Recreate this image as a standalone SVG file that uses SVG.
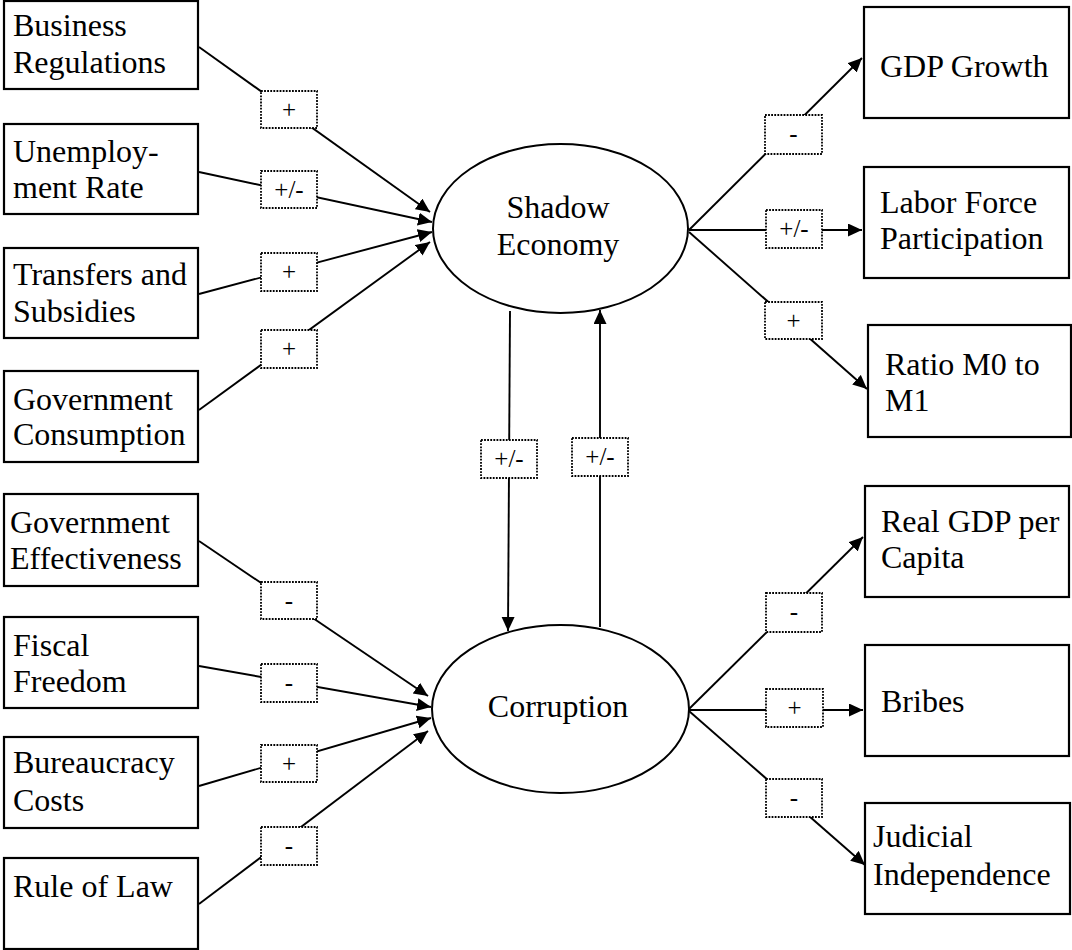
<svg xmlns="http://www.w3.org/2000/svg" width="1072" height="950" viewBox="0 0 1072 950">
<style>
.box{fill:#fff;stroke:#000;stroke-width:2.2}
.ell{fill:#fff;stroke:#000;stroke-width:2}
.t{font-family:"Liberation Serif","Times New Roman",serif;font-size:32px;fill:#000}
.c{stroke:#000;stroke-width:1.9;fill:none;marker-end:url(#ah)}
.lb{fill:#fff;stroke:#000;stroke-width:1.8;stroke-dasharray:1.8 1.3}
.lt{font-family:"Liberation Serif","Times New Roman",serif;font-size:25px;fill:#000;text-anchor:middle}
</style>
<defs>
<marker id="ah" markerUnits="userSpaceOnUse" markerWidth="16" markerHeight="14" refX="14" refY="6.5" orient="auto">
<path d="M0,0 L14,6.5 L0,13 z" fill="#000"/>
</marker>
</defs>
<rect width="1072" height="950" fill="#fff"/>
<g id="connectors">
<line class="c" x1="199" y1="47" x2="430" y2="212"/>
<line class="c" x1="199" y1="172" x2="432" y2="222"/>
<line class="c" x1="199" y1="294" x2="432" y2="232"/>
<line class="c" x1="199" y1="410" x2="430" y2="242"/>
<line class="c" x1="199" y1="541" x2="428" y2="696"/>
<line class="c" x1="199" y1="666" x2="431" y2="707"/>
<line class="c" x1="199" y1="786" x2="431" y2="718"/>
<line class="c" x1="199" y1="904" x2="428" y2="731"/>
<line class="c" x1="689" y1="230" x2="862" y2="58"/>
<line class="c" x1="689" y1="230" x2="862" y2="230"/>
<line class="c" x1="689" y1="232" x2="867" y2="389"/>
<line class="c" x1="689" y1="709" x2="863" y2="537"/>
<line class="c" x1="689" y1="710" x2="863" y2="710"/>
<line class="c" x1="689" y1="711" x2="865" y2="865"/>
<line class="c" x1="510" y1="311" x2="508" y2="631"/>
<line class="c" x1="600" y1="627" x2="600" y2="310"/>
<g id="labels">
<rect class="lb" x="261" y="91" width="56" height="37"/><text class="lt" x="289" y="118">+</text>
<rect class="lb" x="261" y="171" width="56" height="37"/><text class="lt" x="289" y="198">+/-</text>
<rect class="lb" x="261" y="253" width="56" height="38"/><text class="lt" x="289" y="280">+</text>
<rect class="lb" x="261" y="330" width="56" height="38"/><text class="lt" x="289" y="357">+</text>
<rect class="lb" x="261" y="582" width="56" height="37"/><text class="lt" x="289" y="609">-</text>
<rect class="lb" x="261" y="664" width="56" height="38"/><text class="lt" x="289" y="691">-</text>
<rect class="lb" x="261" y="745" width="56" height="37"/><text class="lt" x="289" y="772">+</text>
<rect class="lb" x="261" y="827" width="56" height="38"/><text class="lt" x="289" y="854">-</text>
<rect class="lb" x="765" y="115" width="57" height="39"/><text class="lt" x="793.5" y="142">-</text>
<rect class="lb" x="766" y="210" width="56" height="38"/><text class="lt" x="794" y="237">+/-</text>
<rect class="lb" x="765" y="302" width="57" height="37"/><text class="lt" x="793.5" y="329">+</text>
<rect class="lb" x="766" y="593" width="56" height="39"/><text class="lt" x="794" y="620">-</text>
<rect class="lb" x="766" y="689" width="57" height="38"/><text class="lt" x="794.5" y="716">+</text>
<rect class="lb" x="766" y="779" width="56" height="38"/><text class="lt" x="794" y="806">-</text>
<rect class="lb" x="481" y="440" width="56" height="38"/><text class="lt" x="509" y="467">+/-</text>
<rect class="lb" x="572" y="438" width="56" height="38"/><text class="lt" x="600" y="465">+/-</text>
</g>
</g>
<g id="shadow-economy"><ellipse class="ell" cx="560.5" cy="228.5" rx="127.5" ry="84.5"/><text class="t" x="558" y="218" text-anchor="middle">Shadow</text><text class="t" x="558" y="255" text-anchor="middle">Economy</text></g>
<g id="corruption"><ellipse class="ell" cx="560.5" cy="709" rx="128.5" ry="84"/><text class="t" x="558" y="717" text-anchor="middle">Corruption</text></g>
<g id="business-regulations"><rect class="box" x="4" y="1" width="194" height="88"/><text class="t" x="13" y="36">Business</text><text class="t" x="13" y="73">Regulations</text></g>
<g id="unemployment-rate"><rect class="box" x="4" y="124" width="194" height="90"/><text class="t" x="13" y="162">Unemploy-</text><text class="t" x="13" y="198">ment Rate</text></g>
<g id="transfers-subsidies"><rect class="box" x="4" y="248" width="194" height="90"/><text class="t" x="13" y="285">Transfers and</text><text class="t" x="13" y="322">Subsidies</text></g>
<g id="government-consumption"><rect class="box" x="4" y="371" width="194" height="91"/><text class="t" x="13" y="410">Government</text><text class="t" x="13" y="445">Consumption</text></g>
<g id="government-effectiveness"><rect class="box" x="4" y="494" width="194" height="92"/><text class="t" x="10" y="533">Government</text><text class="t" x="10" y="569">Effectiveness</text></g>
<g id="fiscal-freedom"><rect class="box" x="4" y="617" width="194" height="91"/><text class="t" x="13" y="656">Fiscal</text><text class="t" x="13" y="692">Freedom</text></g>
<g id="bureaucracy-costs"><rect class="box" x="4" y="737" width="194" height="91"/><text class="t" x="13" y="773">Bureaucracy</text><text class="t" x="13" y="811">Costs</text></g>
<g id="rule-of-law"><rect class="box" x="4" y="858" width="194" height="91"/><text class="t" x="13" y="897">Rule of Law</text></g>
<g id="gdp-growth"><rect class="box" x="864" y="7" width="205" height="111"/><text class="t" x="880" y="77">GDP Growth</text></g>
<g id="labor-force-participation"><rect class="box" x="864" y="167" width="205" height="111"/><text class="t" x="880" y="213">Labor Force</text><text class="t" x="880" y="249">Participation</text></g>
<g id="ratio-m0-m1"><rect class="box" x="868" y="325" width="203" height="112"/><text class="t" x="885" y="375">Ratio M0 to</text><text class="t" x="885" y="411">M1</text></g>
<g id="real-gdp-per-capita"><rect class="box" x="865" y="486" width="204" height="111"/><text class="t" x="881" y="532">Real GDP per</text><text class="t" x="881" y="568">Capita</text></g>
<g id="bribes"><rect class="box" x="865" y="645" width="204" height="111"/><text class="t" x="881" y="712">Bribes</text></g>
<g id="judicial-independence"><rect class="box" x="865" y="803" width="205" height="111"/><text class="t" x="873" y="847">Judicial</text><text class="t" x="873" y="885">Independence</text></g>
</svg>
